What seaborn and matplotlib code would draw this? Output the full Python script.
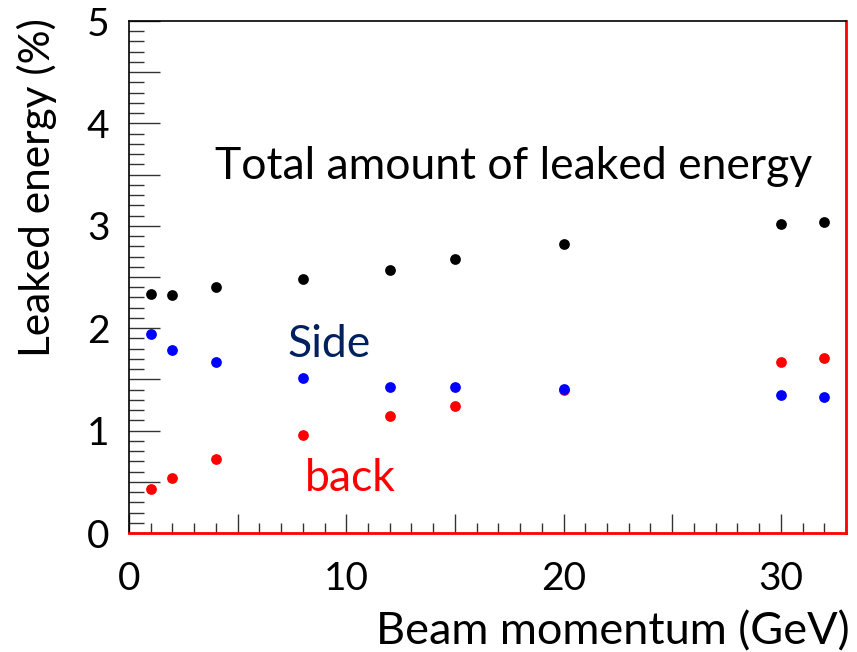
import matplotlib
matplotlib.use("Agg")
import matplotlib.pyplot as plt
from matplotlib.ticker import MultipleLocator, FuncFormatter
import seaborn as sns
import pandas as pd

momentum = [1, 2, 4, 8, 12, 15, 20, 30, 32]
total = [2.33, 2.32, 2.40, 2.48, 2.57, 2.68, 2.82, 3.02, 3.04]
side = [1.94, 1.79, 1.67, 1.51, 1.43, 1.43, 1.41, 1.35, 1.33]
back = [0.43, 0.54, 0.72, 0.96, 1.14, 1.24, 1.40, 1.67, 1.71]

sns.set_theme(style="white")
plt.rcParams['font.family'] = ['Lato', 'DejaVu Sans']
plt.rcParams['text.color'] = 'black'
plt.rcParams['xtick.labelcolor'] = 'black'
plt.rcParams['ytick.labelcolor'] = 'black'

fig = plt.figure(figsize=(8.57, 6.52), dpi=100)
ax = fig.add_axes([129/857, 1 - 533/652, (846-129)/857, (533-21)/652])

df_t = pd.DataFrame({"x": momentum, "y": total})
df_s = pd.DataFrame({"x": momentum, "y": side})
df_b = pd.DataFrame({"x": momentum, "y": back})
kw = dict(s=60, linewidth=0, ax=ax, legend=False, zorder=3)
sns.scatterplot(data=df_t, x="x", y="y", color="black", **kw)
sns.scatterplot(data=df_b, x="x", y="y", color="#ff0000", **kw)
sns.scatterplot(data=df_s, x="x", y="y", color="#0000ff", **kw)

ax.set_xlim(0, 33)
ax.set_ylim(0, 5)
ax.set_xlabel("")
ax.set_ylabel("")

ax.xaxis.set_major_locator(MultipleLocator(5))
ax.xaxis.set_minor_locator(MultipleLocator(1))
ax.yaxis.set_major_locator(MultipleLocator(0.5))
ax.yaxis.set_minor_locator(MultipleLocator(0.1))
ax.xaxis.set_major_formatter(FuncFormatter(lambda v, p: f"{int(round(v))}" if abs(v % 10) < 1e-6 or abs(v % 10 - 10) < 1e-6 else ""))
ax.yaxis.set_major_formatter(FuncFormatter(lambda v, p: f"{int(round(v))}" if abs(v - round(v)) < 1e-6 else ""))

ax.tick_params(axis="x", which="major", direction="in", length=14, width=1, color="#333333",
               labelsize=28, pad=20, bottom=True, top=False)
ax.tick_params(axis="x", which="minor", direction="in", length=7, width=1, color="#333333",
               bottom=True, top=False)
ax.tick_params(axis="y", which="major", direction="in", length=22, width=1, color="#333333",
               labelsize=28, pad=14, left=True, right=False)
ax.tick_params(axis="y", which="minor", direction="in", length=11, width=1, color="#333333",
               left=True, right=False)

for s in ["top", "left"]:
    ax.spines[s].set_color("black")
    ax.spines[s].set_linewidth(1.2)
for s in ["bottom", "right"]:
    ax.spines[s].set_color("#ff0000")
    ax.spines[s].set_linewidth(2)

ax.text(3.95, 3.58, "Total amount of leaked energy", fontsize=32, color="black", va="center", ha="left")
ax.text(7.3, 1.84, "Side", fontsize=32, color="#002060", va="center", ha="left")
ax.text(8.1, 0.53, "back", fontsize=32, color="#ff0000", va="center", ha="left")

fig.text(37/857, 1 - 188/652, "Leaked energy (%)", rotation=90, fontsize=30.5, va="center", ha="center")
fig.text(850/857, 1 - 632/652, "Beam momentum (GeV)", fontsize=32.5, va="center", ha="right")

fig.savefig("out.png", dpi=100)
